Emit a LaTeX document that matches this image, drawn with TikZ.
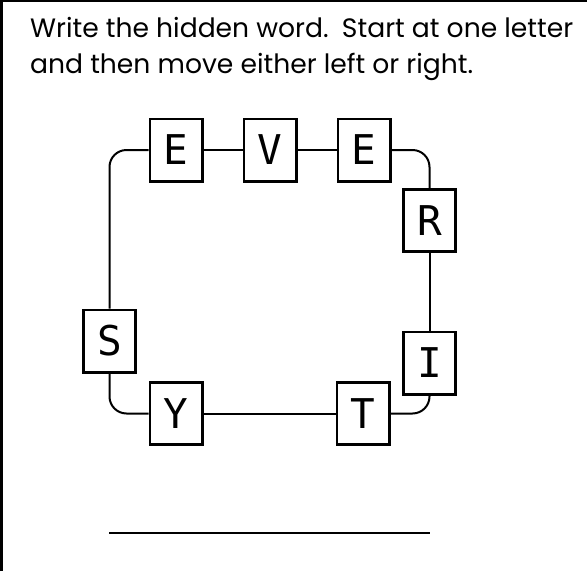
\documentclass[tikz,border=0pt]{standalone}
\usepackage{fontspec}
\setmainfont{Poppins}
\newfontfamily\letterfont{DejaVu Sans Mono}

\tikzset{
    letterbox/.style={draw, line width=2.6pt, minimum width=52.4pt, minimum height=62.4pt,
        inner sep=0pt, font=\letterfont\fontsize{41}{41}\selectfont},
    link/.style={line width=2pt, rounded corners=17pt},
    task/.style={anchor=base west, inner sep=0pt, font=\fontsize{26.6}{30}\selectfont},
}

\begin{document}
\begin{tikzpicture}[x=1pt, y=-1pt]
    \useasboundingbox (0,0) rectangle (587,571);

    % ==========================================
    % FRAME AND INSTRUCTION
    % ==========================================
    \draw[line width=2.4pt] (1.5,571) -- (1.5,1.2) -- (587,1.2);
    \node[task] (line1) at (30,37) {Write the hidden word.\hspace{0.5em}Start at one letter};
    \node[task] (line2) at (30,73) {and then move either left or right.};

    % ==========================================
    % LETTER RING
    % ==========================================
    % Top row
    \node[letterbox] (E1) at (176,150) {E};
    \node[letterbox] (V)  at (270,150) {V};
    \node[letterbox] (E2) at (364,150) {E};
    % Right side
    \node[letterbox] (R) at (429.5,220.5) {R};
    \node[letterbox] (I) at (429.5,363) {I};
    % Bottom row
    \node[letterbox] (T) at (363,413.5) {T};
    \node[letterbox] (Y) at (176,413.5) {Y};
    % Left side
    \node[letterbox] (S) at (109.5,341) {S};

    % Links round the ring
    \draw[link] (E1) -- (V);
    \draw[link] (V) -- (E2);
    \draw[link] (E2.east) -| (R.north);
    \draw[link] (R) -- (I);
    \draw[link] (I.south) |- (T.east);
    \draw[link] (T) -- (Y);
    \draw[link] (Y.west) -| (S.south);
    \draw[link] (S.north) |- (E1.west);

    % ==========================================
    % ANSWER LINE
    % ==========================================
    \coordinate (ansL) at (109,533);
    \coordinate (ansR) at (430,533);
    \draw[line width=2.4pt] (ansL) -- (ansR);
\end{tikzpicture}
\end{document}
